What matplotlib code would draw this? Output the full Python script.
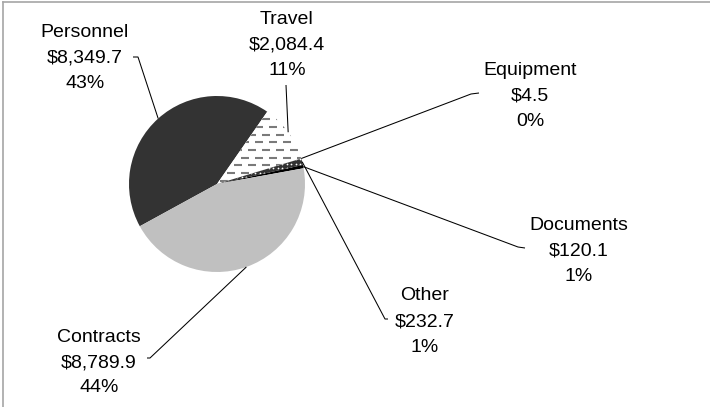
import numpy as np
import matplotlib
matplotlib.use("Agg")
import matplotlib.pyplot as plt
from matplotlib.collections import LineCollection

# Budget breakdown (thousands of dollars)
categories = ["Personnel", "Travel", "Equipment", "Other", "Documents", "Contracts"]
amounts = [8349.7, 2084.4, 4.5, 232.7, 120.1, 8789.9]
pct_labels = ["43%", "11%", "0%", "1%", "1%", "44%"]

W, H = 710, 407
fig = plt.figure(figsize=(W / 100, H / 100), dpi=100)
ax = fig.add_axes([0, 0, 1, 1])


def py(y):
    """Convert a top-down pixel row to the axes' y coordinate."""
    return H - y


cx, cy, R = 217, 184, 88
face = ["#333333", "white", "#808080", "#333333", "#000000", "#c0c0c0"]

wedges, _ = ax.pie(
    amounts, colors=face, startangle=208.7, counterclock=False,
    center=(cx, py(cy)), radius=R, frame=True,
    wedgeprops=dict(linewidth=0),
)

# Travel: staggered gray dashes on white
segs = []
step_y, period, dash = 7.7, 14.0, 7.5
for i, yy in enumerate(np.arange(cy - R, cy + R, step_y)):
    off = (i % 2) * period / 2
    for xx in np.arange(cx - R - period + off, cx + R + period, period):
        segs.append([(xx, py(yy)), (xx + dash, py(yy))])
dashes = LineCollection(segs, colors="#7a7a7a", linewidths=1.5, capstyle="butt")
ax.add_collection(dashes)
dashes.set_clip_path(wedges[1])

# Other: white dots on dark
gx, gy = np.meshgrid(np.arange(cx - R, cx + R, 4.5), np.arange(cy - R, cy + R, 4.5))
dots = ax.scatter(gx.ravel(), py(gy.ravel()), s=1.6, c="white", linewidths=0, zorder=3)
dots.set_clip_path(wedges[3])

# Labels
font = dict(family=["Liberation Sans", "DejaVu Sans"], size=14, color="black")
label_pos = {
    "Personnel": (85, 37),
    "Travel": (287, 24),
    "Equipment": (530, 75),
    "Other": (425, 300.5),
    "Documents": (579, 230),
    "Contracts": (99, 341.5),
}
leader_start = {
    "Personnel": [(133, 57), (138, 57)],
    "Travel": [(286, 85)],
    "Equipment": [(479, 93), (471, 94)],
    "Other": [(388, 319), (385, 319)],
    "Documents": [(525, 248), (518, 247)],
    "Contracts": [(147, 358), (150, 358)],
}
line_step = 25.5

for w, name, amt, pct in zip(wedges, categories, amounts, pct_labels):
    x0, y0 = label_pos[name]
    for k, line in enumerate([name, f"${amt:,.1f}", pct]):
        ax.text(x0, py(y0 + k * line_step), line, ha="center", va="baseline", **font)
    mid = np.deg2rad((w.theta1 + w.theta2) / 2)
    ex, ey = cx + R * np.cos(mid), py(cy) + R * np.sin(mid)
    pts = [(x, py(y)) for x, y in leader_start[name]] + [(ex, ey)]
    xs, ys = zip(*pts)
    ax.plot(xs, ys, color="black", lw=0.75, solid_capstyle="butt", zorder=4)

# Frame edges
ax.plot([3, 3], [py(H), py(1.5)], color="#a6a6a6", lw=1.2, clip_on=False)
ax.plot([3, W], [py(1.5), py(1.5)], color="#a6a6a6", lw=1.2, clip_on=False)

ax.set_xlim(0, W)
ax.set_ylim(0, H)
ax.axis("off")

fig.savefig("out.png", dpi=100)
